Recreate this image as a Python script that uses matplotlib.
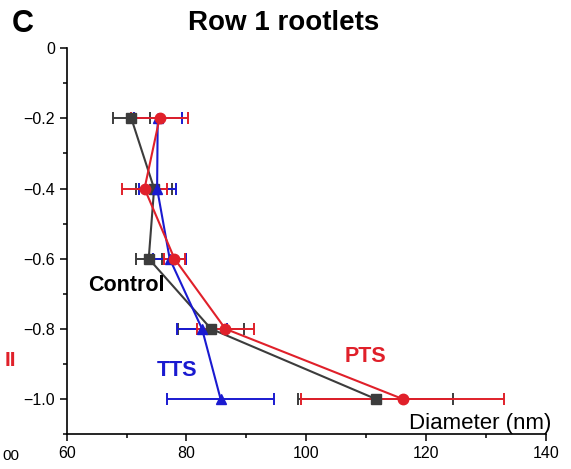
# Row 1 rootlets - diameter vs. depth, three groups with error bars
import matplotlib
matplotlib.use("Agg")
import matplotlib.pyplot as plt
from matplotlib.ticker import MultipleLocator

plt.rcParams['font.family'] = ['Liberation Sans', 'DejaVu Sans']

# ---------------------------------------
# Data
# ---------------------------------------
depth = [-0.2, -0.4, -0.6, -0.8, -1.0]

control_mean = [70.8, 74.6, 73.7, 84.1, 111.6]
control_err = [3.1, 3.0, 2.2, 5.5, 12.9]

tts_mean = [75.2, 75.1, 77.2, 82.6, 85.7]
tts_err = [4.0, 3.1, 2.8, 4.2, 9.0]

pts_mean = [75.5, 73.0, 78.0, 86.5, 116.1]
pts_err = [4.8, 3.7, 1.7, 4.8, 16.9]

x_ticks = [60, 80, 100, 120, 140]
y_ticks = [0, -0.2, -0.4, -0.6, -0.8, -1.0]
y_labels = ["0", "\u22120.2", "\u22120.4", "\u22120.6", "\u22120.8", "\u22121.0"]

c_control = "#3c3c3c"
c_tts = "#1a1ad0"
c_pts = "#e0202a"

# ---------------------------------------
# Figure
# ---------------------------------------
fig = plt.figure(figsize=(5.71, 4.69), dpi=100)
ax = fig.add_axes([0.1168, 0.0746, 0.8389, 0.8224])

common = dict(capsize=4.5, elinewidth=1.4, linewidth=1.5, capthick=1.4)
ax.errorbar(control_mean, depth, xerr=control_err, color=c_control,
            marker="s", markersize=6.5, **common)
ax.errorbar(tts_mean, depth, xerr=tts_err, color=c_tts,
            marker="^", markersize=7.5, **common)
ax.errorbar(pts_mean, depth, xerr=pts_err, color=c_pts,
            marker="o", markersize=7.5, **common)

ax.set_xlim(60, 140)
ax.set_ylim(-1.1, 0)
ax.set_xticks(x_ticks)
ax.set_yticks(y_ticks)
ax.set_yticklabels(y_labels)
ax.xaxis.set_minor_locator(MultipleLocator(10))
ax.yaxis.set_minor_locator(MultipleLocator(0.1))
ax.tick_params(which="both", direction="out", labelsize=11.5, width=1.1)
ax.tick_params(which="major", length=5)
ax.tick_params(which="minor", length=3)

for side in ["top", "right"]:
    ax.spines[side].set_visible(False)
for side in ["left", "bottom"]:
    ax.spines[side].set_linewidth(1.2)

# labels on the plot
ax.text(63.5, -0.676, "Control", fontsize=15.5, fontweight="bold",
        color="black", va="center", ha="left")
ax.text(75.1, -0.92, "TTS", fontsize=15.5, fontweight="bold",
        color=c_tts, va="center", ha="left")
ax.text(106.4, -0.88, "PTS", fontsize=15.5, fontweight="bold",
        color=c_pts, va="center", ha="left")
ax.text(117.2, -1.07, "Diameter (nm)", fontsize=16, color="black",
        va="center", ha="left", clip_on=False)

fig.text(0.497, 1 - 23 / 469, "Row 1 rootlets", fontsize=20,
         fontweight="bold", ha="center", va="center")
fig.text(12 / 571, 1 - 24 / 469, "C", fontsize=22, fontweight="bold",
         ha="left", va="center")

# bits of the neighbouring panel that show at the left edge
fig.text(16 / 571, 1 - 360 / 469, "II", fontsize=15, fontweight="bold",
         color=c_pts, ha="right", va="center")
fig.text(2 / 571, 1 - 456 / 469, "00", fontsize=11, ha="left",
         va="center")

fig.savefig("out.png", dpi=100)
